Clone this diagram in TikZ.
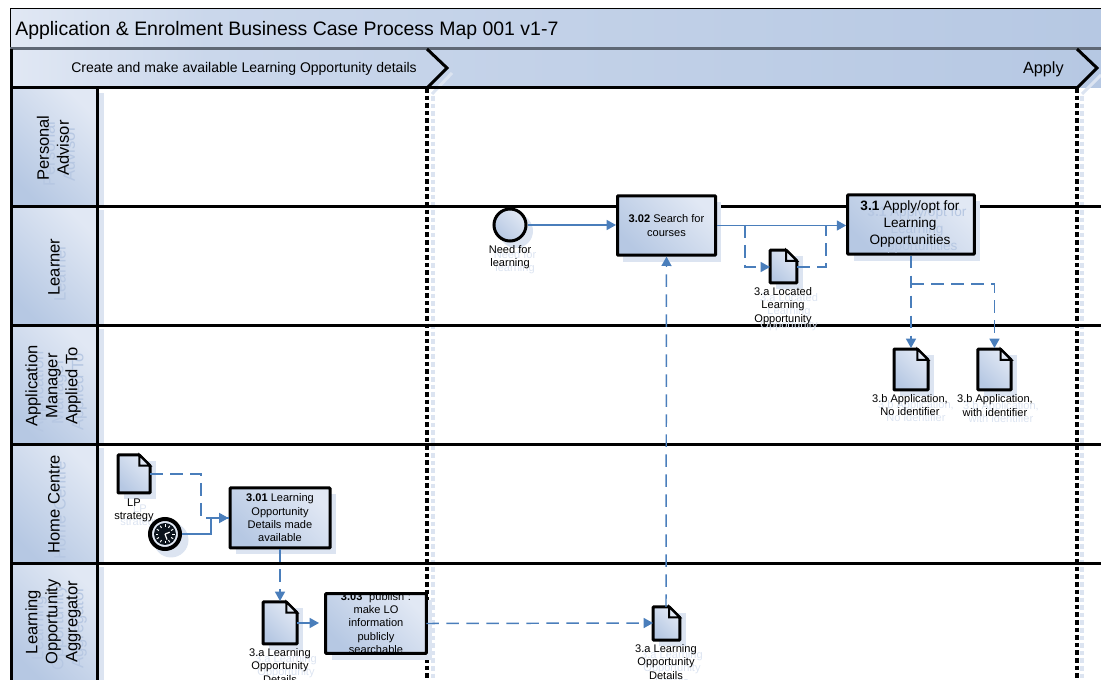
\documentclass[tikz,border=0pt]{standalone}
\usepackage{fontspec}
\setmainfont{Liberation Sans}
\usetikzlibrary{positioning,arrows.meta,shapes.geometric,calc}

\definecolor{paleblue}{HTML}{E1E8F4}
\definecolor{midblue}{HTML}{CAD7EB}
\definecolor{deepblue}{HTML}{B6C8E3}
\definecolor{ghostblue}{HTML}{DCE4F1}
\definecolor{ghostdeep}{HTML}{B6C7E2}
\definecolor{flowblue}{HTML}{4A7EBB}
\definecolor{rulegrey}{HTML}{5F6875}

\pgfdeclarehorizontalshading{bandfade}{100bp}{color(0bp)=(paleblue); color(25bp)=(paleblue); color(34bp)=(midblue); color(75bp)=(deepblue); color(100bp)=(deepblue)}

\tikzset{
    procbox/.style={rectangle, minimum width=#1, inner sep=0pt, align=center, draw=black, line width=2.25pt, rounded corners=0.5pt, top color=paleblue, bottom color=deepblue, shading angle=-45, font=\fontsize{8.3}{10}\selectfont},
    procshade/.style={rectangle, minimum width=#1, inner sep=0pt, fill=ghostblue},
    event/.style={circle, minimum size=24pt, inner sep=0pt, draw=black, line width=2.25pt, top color=paleblue, bottom color=deepblue, shading angle=-45},
    lbl/.style={align=center, inner sep=0pt, font=\fontsize{8.3}{9.9}\selectfont},
    ghost/.style={align=center, inner sep=0pt, text=ghostblue, font=\fontsize{8.3}{9.9}\selectfont},
    biglbl/.style={align=center, inner sep=0pt, font=\fontsize{10.2}{12.4}\selectfont},
    lanelbl/.style={align=center, inner sep=0pt, rotate=90, font=\fontsize{12.4}{15}\selectfont},
    laneghost/.style={lanelbl, text=ghostdeep},
    lanehead/.style={rectangle, inner sep=0pt, minimum width=64.5pt, minimum height=89pt, top color=paleblue, bottom color=deepblue, shading angle=-45},
    flow/.style={draw=flowblue, line width=1.1pt, -{Triangle[length=7pt,width=7.5pt]}},
    flowdash/.style={flow, dash pattern=on 9.5pt off 5.5pt},
    branch/.style={draw=flowblue, line width=1.1pt},
    branchdash/.style={branch, dash pattern=on 9.5pt off 5.5pt},
    laneline/.style={line width=2.25pt, black},
    phaseline/.style={line width=2.4pt, black, dash pattern=on 3.5pt off 2.2pt},
    phaseghost/.style={line width=2.4pt, ghostblue, dash pattern=on 3.5pt off 2.2pt}
}

% document symbol, centre at #1, width #2, height #3, label name #4
\newcommand{\docsymbol}[4]{%
    \fill[ghostblue] ($(#1)+(-#2/2+4.5pt,-#3/2-4.5pt)$) rectangle ($(#1)+(#2/2+4.5pt,#3/2-4.5pt)$);
    \draw[line width=2.25pt, rounded corners=0.5pt, top color=paleblue, bottom color=deepblue, shading angle=-45]
        ($(#1)+(-#2/2,#3/2)$) -- ($(#1)+(#2/2-8pt,#3/2)$) -- ($(#1)+(#2/2,#3/2-8pt)$) -- ($(#1)+(#2/2,-#3/2)$) -- ($(#1)+(-#2/2,-#3/2)$) -- cycle;
    \draw[line width=1.5pt, fill=paleblue] ($(#1)+(#2/2-8pt,#3/2)$) -- ($(#1)+(#2/2-8pt,#3/2-8pt)$) -- ($(#1)+(#2/2,#3/2-8pt)$) -- cycle;
    \coordinate (#4) at (#1);
}

\begin{document}
\begin{tikzpicture}[x=0.75pt, y=-0.75pt]
    \useasboundingbox (0,0) rectangle (1101,680);

    % bands
    \shade[shading=bandfade] (10,9) rectangle (1101,49);
    \draw[line width=0.75pt] (1101,9) -- (10,9) -- (10,49);
    \node[anchor=west, inner sep=0pt, font=\fontsize{14.6}{17}\selectfont] (title) at (15,30) {Application \& Enrolment Business Case Process Map 001 v1-7};

    \shade[shading=bandfade] (10,49) rectangle (1101,88);
    \draw[rulegrey, line width=2.25pt] (10,49) -- (1101,49);

    % shadows of lanes and phases
    \foreach \ytop/\ybot in {93/207, 212/326, 331/445, 450/564, 569/680}
        \fill[ghostblue] (97,\ytop) rectangle (104,\ybot);
    \foreach \yy in {211, 330, 449, 568}
        \fill[ghostblue] (15,\yy-1) rectangle (104,\yy+3);
    \draw[ghostblue, line width=2.25pt] (432,94) -- (452,73);
    \draw[ghostblue, line width=2.25pt] (1082,94) -- (1101,75);

    % lane headers
    \node[lanehead, minimum height=89.2pt] (headA) at (54,147.5) {};
    \node[lanehead] (headB) at (54,266.5) {};
    \node[lanehead] (headC) at (54,385.5) {};
    \node[lanehead] (headD) at (54,504.5) {};
    \node[lanehead, minimum height=87pt] (headE) at (54,622.5) {};

    \node[laneghost] at (59,154) {Personal\\Advisor};
    \node[laneghost] at (60,273) {Learner};
    \node[laneghost] at (59,392) {Application\\Manager\\Applied To};
    \node[laneghost] at (60,510) {Home Centre};
    \node[laneghost] at (59,628) {Learning\\Opportunity\\Aggregator};

    \node[lanelbl] (nameA) at (53,148) {Personal\\Advisor};
    \node[lanelbl] (nameB) at (54,267) {Learner};
    \node[lanelbl] (nameC) at (53,386) {Application\\Manager\\Applied To};
    \node[lanelbl] (nameD) at (54,504) {Home Centre};
    \node[lanelbl] (nameE) at (53,622) {Learning\\Opportunity\\Aggregator};

    % dotted phase lines
    \draw[phaseghost] (433,96) -- (433,680);
    \draw[phaseghost] (1082,96) -- (1082,680);

    % lane lines
    \foreach \yy in {207, 326, 445, 564}
        \draw[laneline] (11,\yy) -- (1101,\yy);
    \draw[laneline] (11,88) -- (1077,88);
    \draw[laneline] (11,49) -- (11,680);
    \draw[laneline] (97,88) -- (97,680);
    \draw[phaseline] (427,88) -- (427,680);
    \draw[phaseline] (1077,88) -- (1077,680);
    \draw[line width=2.25pt, line join=miter] (427,49) -- (447,68) -- (427,88);
    \draw[line width=2.25pt, line join=miter] (1077,49) -- (1097,68) -- (1077,88);

    \node[anchor=west, inner sep=0pt, font=\fontsize{10.5}{12}\selectfont] (phaseA) at (71,69) {Create and make available Learning Opportunity details};
    \node[anchor=east, inner sep=0pt, font=\fontsize{12.2}{15}\selectfont] (phaseB) at (1064,69.5) {Apply};

    % learner lane
    \fill[ghostblue] (516,231) circle (17);
    \node[event] (need) at (510,225) {};
    \node[ghost] at (515,262.5) {Need for\\learning};
    \node[lbl, below = 2pt of need] (needlbl) {Need for\\learning};

    \node[procshade=73.5pt, minimum height=44.5pt] at (672,232) {};
    \node[procbox=73.5pt, minimum height=44.5pt] (search) at (666.5,225.5) {\textbf{3.02} Search for\\courses};

    \node[procshade=95pt, minimum height=44.5pt] at (917,231) {};
    \node[procbox=95pt, minimum height=44.5pt] (apply) at (911,224.5) {};
    \node[biglbl, text=ghostdeep] at (917,230) {\textbf{3.1} Apply/opt for\\Learning\\Opportunities};
    \node[biglbl] (applytxt) at (910,224) {\textbf{3.1} Apply/opt for\\Learning\\Opportunities};

    \docsymbol{783.5,266.5}{20pt}{24.5pt}{located}
    \node[ghost] at (789,312) {3.a Located\\Learning\\Opportunity};
    \node[lbl] (locatedlbl) at (783,306) {3.a Located\\Learning\\Opportunity};

    \coordinate (split) at (745,225);
    \coordinate (turn) at (745,267);
    \coordinate (back) at (826,267);
    \coordinate (join) at (826,225);
    \draw[flow] (search.east) -- (apply.west |- search.east);
    \draw[flowdash] (split) -- (turn) -- (770,267);
    \draw[branchdash] (797,267) -- (back) -- (join);
    \draw[flow] (need) -- (search.west |- need);

    % application manager lane
    \docsymbol{911,369.5}{25.5pt}{30.5pt}{appno}
    \docsymbol{994.5,369.5}{25pt}{30.5pt}{appyes}
    \node[ghost] at (916,411) {3.b Application,\\No identifier};
    \node[ghost] at (1001,412) {3.b Application,\\with identifier};
    \node[lbl] (appnolbl) at (910,405) {3.b Application,\\No identifier};
    \node[lbl] (appyeslbl) at (995,405.5) {3.b Application,\\with identifier};

    \coordinate (fork) at (911,284);
    \draw[flowdash] (apply.south -| fork) -- (911,348);
    \draw[flowdash] (fork) -- (994.5,284) -- (994.5,348);

    % home centre lane
    \docsymbol{134,474}{24pt}{28.5pt}{strategy}
    \node[ghost] at (140,516) {LP\\strategy};
    \node[lbl] (strategylbl) at (134,510) {LP\\strategy};

    \fill[ghostblue] (171,540) circle (17.5);
    \node[circle, minimum size=22.5pt, inner sep=0pt, fill=paleblue, draw=black, line width=3pt] (timer) at (165,534) {};
    \fill[black!85!flowblue] (timer) circle (11);
    \foreach \aa in {0,30,...,330}
        \draw[white, line width=0.7pt] ($(timer)+(\aa:7)$) -- ($(timer)+(\aa:9.5)$);
    \draw[white, line width=0.9pt] (timer.center) -- ++(70:6) (timer.center) -- ++(-20:5);

    \node[procshade=75pt, minimum height=45pt] at (286,524) {};
    \node[procbox=75pt, minimum height=45pt] (details) at (280,518) {\textbf{3.01} Learning\\Opportunity\\Details made\\available};

    \draw[branchdash] (150,474) -- (201,474) -- (201,518) -- (details.west);
    \draw[flow] (timer) -- (211,534) -- (211,518) -- (details.west);

    % aggregator lane
    \docsymbol{280,623}{25.5pt}{31.5pt}{oppleft}
    \node[ghost] at (286,672) {3.a Learning\\Opportunity\\Details};
    \node[lbl] (oppleftlbl) at (280,666) {3.a Learning\\Opportunity\\Details};

    \node[procshade=75pt, minimum height=44.5pt] at (382,630) {};
    \node[rectangle, minimum width=75pt, minimum height=44.5pt, inner sep=0pt, top color=paleblue, bottom color=deepblue, shading angle=-45] (publish) at (376,623.5) {};
    \node[lbl] (publishtxt) at (376,623) {\textbf{3.03} ``publish'':\\make LO\\information\\publicly\\searchable};
    \draw[line width=2.25pt, rounded corners=0.5pt] (publish.north west) rectangle (publish.south east);

    \docsymbol{666.5,623.5}{20pt}{25pt}{oppmid}
    \node[ghost] at (672,668) {3.a Learning\\Opportunity\\Details};
    \node[lbl] (oppmidlbl) at (666,662) {3.a Learning\\Opportunity\\Details};

    \draw[flowdash] (details.south) -- (280,601);
    \draw[flow] (297,623) -- (319,623);
    \draw[flowdash] (publish.east) -- (653,623);
    \draw[flowdash] (666,607) -- (search.south);
\end{tikzpicture}
\end{document}
